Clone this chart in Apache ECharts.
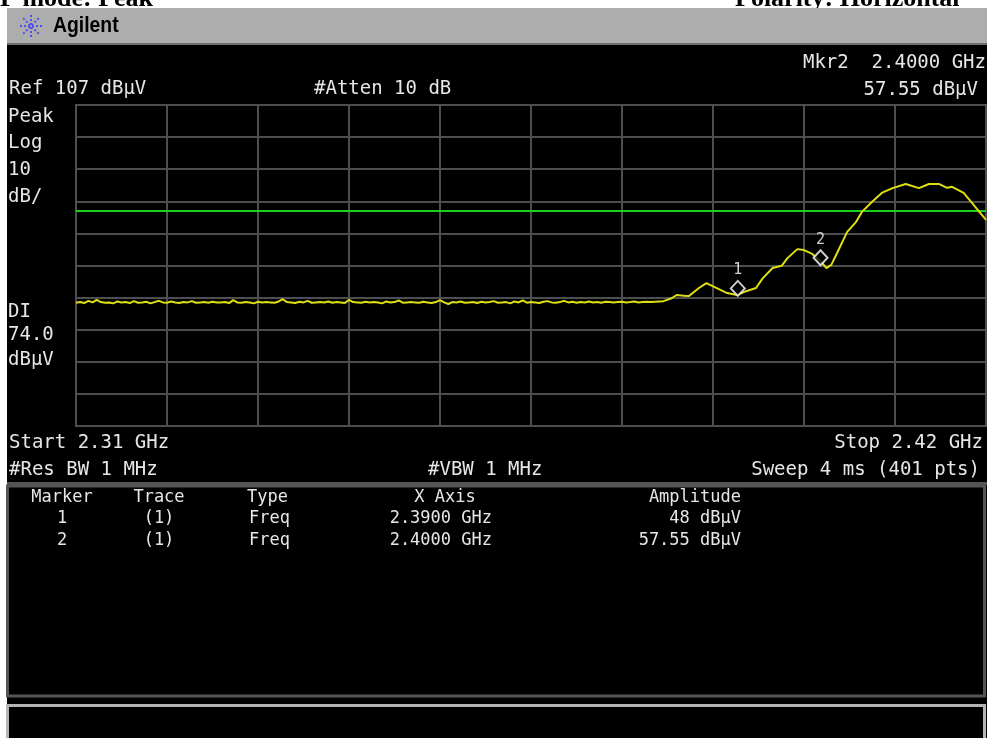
<!DOCTYPE html>
<html><head><meta charset="utf-8">
<script src="https://cdn.jsdelivr.net/npm/echarts@6/dist/echarts.min.js"></script>
<style>html,body{margin:0;padding:0;background:#fff}#c{width:987px;height:738px}</style>
</head><body><div id="c"></div>
<script>
// Trace (frequency in MHz, level in dBuV)
const freqMHz = [
2310,2310.5,2311,2311.5,2312,2312.5,2313,2313.5,2314,2314.5,
2315,2315.5,2316,2316.5,2317,2317.5,2318,2318.5,2319,2319.5,
2320,2320.5,2321,2321.5,2322,2322.5,2323,2323.5,2324,2324.5,
2325,2325.5,2326,2326.5,2327,2327.5,2328,2328.5,2329,2329.5,
2330,2330.5,2331,2331.5,2332,2332.5,2333,2333.5,2334,2334.5,
2335,2335.5,2336,2336.5,2337,2337.5,2338,2338.5,2339,2339.5,
2340,2340.5,2341,2341.5,2342,2342.5,2343,2343.5,2344,2344.5,
2345,2345.5,2346,2346.5,2347,2347.5,2348,2348.5,2349,2349.5,
2350,2350.5,2351,2351.5,2352,2352.5,2353,2353.5,2354,2354.5,
2355,2355.5,2356,2356.5,2357,2357.5,2358,2358.5,2359,2359.5,
2360,2360.5,2361,2361.5,2362,2362.5,2363,2363.5,2364,2364.5,
2365,2365.5,2366,2366.5,2367,2367.5,2368,2368.5,2369,2369.5,
2370,2370.5,2371,2371.5,2372,2372.5,2373,2373.5,2374,2374.5,
2375,2375.5,2376,2376.5,2377,2377.5,2378,2378.5,2379,2379.5,
2380,
2381,2382,2382.6,2383.5,2384.1,2385.3,2386.2,2387.4,2388.7,2389.9,2391.0,2392.2,2393.0,2394.2,2395.3,
2396.0,2397.2,2398.0,2399.0,2400.1,2400.7,2401.3,2402.0,2403.2,2404.3,2405.0,2406.2,2407.4,2408.7,
2410.3,2411.9,2413.1,2414.3,2415.3,2415.9,2417.3,2418.3,2419.2,2420.0];
const levelDbuV = [
45.4,45.6,45.3,46.0,45.5,46.3,45.6,45.4,45.5,45.2,
45.8,45.5,45.6,45.3,45.9,45.4,45.5,45.7,45.2,45.6,
46.0,45.5,45.4,45.8,45.5,45.3,45.6,45.5,45.9,45.4,
45.5,45.6,45.4,45.7,45.5,45.5,45.6,45.3,46.2,45.5,
45.4,45.6,45.5,45.2,45.7,45.5,45.6,45.5,45.4,45.8,
46.5,45.6,45.5,45.3,45.7,45.5,46.0,45.4,45.5,45.6,
45.5,45.8,45.4,45.6,45.5,45.3,46.3,45.6,45.5,45.4,
45.7,45.5,45.6,45.5,45.2,45.8,45.5,45.6,46.1,45.4,
45.5,45.6,45.5,45.4,45.7,45.5,45.3,45.6,46.2,45.5,
45.0,45.6,45.5,45.8,45.4,45.5,45.6,45.3,45.7,45.5,
45.6,45.9,45.4,45.5,45.6,45.2,45.8,45.5,46.1,45.4,
45.6,45.5,45.3,45.7,45.9,45.5,45.4,45.6,46.0,45.5,
45.7,45.4,45.6,45.5,45.8,45.5,45.6,45.4,45.7,45.6,
45.5,45.6,45.7,45.5,45.6,45.8,45.5,45.6,45.7,45.6,
45.7,
45.9,46.8,47.8,47.6,47.5,50.0,51.5,50.0,48.4,47.8,49.0,50.0,53.0,56.2,56.9,
59.3,62.1,61.8,60.6,58.1,56.2,57.2,60.9,67.4,70.6,73.7,76.8,79.6,81.1,
82.4,81.1,82.4,82.4,81.2,81.5,79.6,76.5,73.7,71.2];
const markerIds = ['1','2'];
const markerFreqGHz = ['2.3900','2.4000'];
const markerFreqMHz = [2390, 2400];
const markerAmp = [48, 57.55];
const markerAmpText = ['48','57.55'];
const displayLine = 74.0;
const refLevel = 107;
const dbPerDiv = 10;
const startMHz = 2310, stopMHz = 2420;

const chart = echarts.init(document.getElementById('c'));
const mono = '"DejaVu Sans Mono", monospace';
const W = '#e6e6e6';
function txt(x, y, s, align, size, extra) {
  return Object.assign({type:'text', x:x, y:y, z:20, style:{text:s, fill:W, font:(size||19)+'px '+mono, align:align||'left', verticalAlign:'middle'}}, extra||{});
}
const graphics = [
  {type:'text', x:0, y:12, z:1, style:{text:'P mode: Peak', fill:'#000', font:'bold 26px "Liberation Serif"', verticalAlign:'bottom'}},
  {type:'text', x:735, y:12, z:1, style:{text:'Polarity: Horizontal', fill:'#000', font:'bold 26px "Liberation Serif"', verticalAlign:'bottom'}},
  {type:'rect', z:2, shape:{x:7,y:8,width:980,height:36}, style:{fill:'#adadad'}},
  {type:'rect', z:2, shape:{x:7,y:43,width:980,height:2}, style:{fill:'#6e6e6e'}},
  {type:'rect', z:-10, shape:{x:7,y:45,width:980,height:693}, style:{fill:'#000'}},
  {type:'text', x:53, y:26, z:5, scaleX:0.88, style:{text:'Agilent', fill:'#000', font:'bold 22px "Liberation Sans"', verticalAlign:'middle'}},
  {type:'rect', z:3, shape:{x:7,y:482,width:980,height:3}, style:{fill:'#555'}},
  {type:'rect', z:3, shape:{x:7.5,y:486,width:977,height:210}, style:{fill:'none', stroke:'#555', lineWidth:3}},
  {type:'rect', z:3, shape:{x:7.5,y:705.5,width:977,height:40}, style:{fill:'none', stroke:'#b4b4b4', lineWidth:3}},
  txt(9, 89, 'Ref '+refLevel+' dBμV'),
  txt(314, 89, '#Atten 10 dB'),
  txt(986, 63, 'Mkr2  '+markerFreqGHz[1]+' GHz', 'right'),
  txt(978, 90, markerAmpText[1]+' dBμV', 'right'),
  txt(8, 117, 'Peak'), txt(8, 143, 'Log'), txt(8, 170, String(dbPerDiv)), txt(8, 197, 'dB/'),
  txt(8, 312, 'DI'), txt(8, 335, displayLine.toFixed(1)), txt(8, 360, 'dBμV'),
  txt(9, 443, 'Start '+(startMHz/1000).toFixed(2)+' GHz'),
  txt(983, 443, 'Stop '+(stopMHz/1000).toFixed(2)+' GHz', 'right'),
  txt(9, 470, '#Res BW 1 MHz'),
  txt(428, 470, '#VBW 1 MHz'),
  txt(980, 470, 'Sweep 4 ms (401 pts)', 'right'),
  txt(62, 498, 'Marker', 'center', 17),
  txt(159, 498, 'Trace', 'center', 17),
  txt(247, 498, 'Type', 'left', 17),
  txt(445, 498, 'X Axis', 'center', 17),
  txt(741, 498, 'Amplitude', 'right', 17)
];
markerIds.forEach((m, i) => {
  const y = 519 + i * 22;
  graphics.push(txt(62, y, m, 'center', 17));
  graphics.push(txt(159, y, '(1)', 'center', 17));
  graphics.push(txt(249, y, 'Freq', 'left', 17));
  graphics.push(txt(492, y, markerFreqGHz[i]+' GHz', 'right', 17));
  graphics.push(txt(741, y, markerAmpText[i]+' dBμV', 'right', 17));
});
// Agilent star
const cx = 31, cy = 26;
for (let k = 0; k < 4; k++) {
  const a = k * Math.PI / 4, r = 11;
  graphics.push({type:'line', z:5, shape:{x1:cx-r*Math.cos(a), y1:cy-r*Math.sin(a), x2:cx+r*Math.cos(a), y2:cy+r*Math.sin(a)},
    style:{stroke:'#5050f0', lineWidth:2, lineDash:[2,2]}});
}

const traceData = freqMHz.map((f, i) => [f, levelDbuV[i]]);
const markerData = markerFreqMHz.map((f, i) => ({value:[f, markerAmp[i]], name:markerIds[i]}));

chart.setOption({
  backgroundColor:'#fff',
  animation:false,
  graphic: graphics,
  grid:{left:76, top:105, width:910, height:321, show:true, borderColor:'#565656', borderWidth:2, backgroundColor:'transparent'},
  xAxis:{type:'value', min:startMHz, max:stopMHz, interval:11,
    axisLabel:{show:false}, axisTick:{show:false}, axisLine:{show:false},
    splitLine:{show:true, lineStyle:{color:'#4e4e4e', width:2}}},
  yAxis:[
    {type:'value', min:refLevel - 10*dbPerDiv, max:refLevel,
      axisLabel:{show:false}, axisTick:{show:false}, axisLine:{show:false}, splitLine:{show:false}},
    {type:'value', min:0, max:10, interval:1,
      axisLabel:{show:false}, axisTick:{show:false}, axisLine:{show:false},
      splitLine:{show:true, lineStyle:{color:'#4e4e4e', width:2}}}
  ],
  series:[
    {type:'line', data:traceData, yAxisIndex:0, symbol:'none', smooth:false, z:5,
      lineStyle:{color:'#dede10', width:2},
      markLine:{silent:true, symbol:'none', label:{show:false},
        lineStyle:{color:'#1ed01e', width:2, type:'solid'}, data:[{yAxis:displayLine}]}},
    {type:'scatter', data:markerData, yAxisIndex:0, symbol:'diamond', symbolSize:[14,15], symbolOffset:[0,-6], z:10,
      itemStyle:{color:'#000', borderColor:'#fff', borderWidth:2},
      label:{show:true, position:'top', distance:2, formatter:p => p.name, color:'#fff', fontSize:15, fontFamily:mono}}
  ]
});
</script></body></html>
